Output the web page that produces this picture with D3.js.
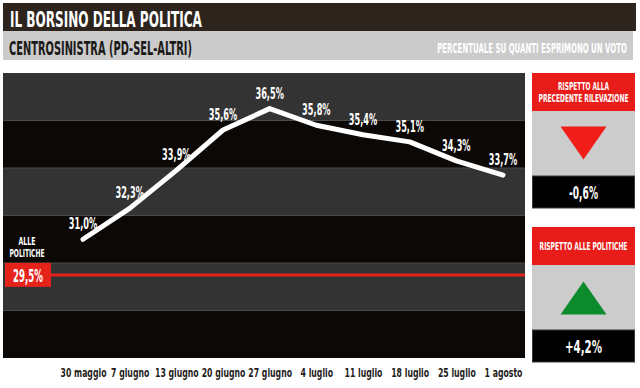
<!DOCTYPE html>
<html>
<head>
<meta charset="utf-8">
<script src="https://cdn.jsdelivr.net/npm/d3@7"></script>
<style>
  html, body { margin: 0; padding: 0; background: #ffffff; }
  svg { display: block; }
  text { font-family: "DejaVu Sans Condensed", "Liberation Sans Narrow", sans-serif; }
</style>
</head>
<body>
<svg id="chart" width="640" height="388"></svg>
<script>
// dati del grafico
const dates = ["30 maggio", "7 giugno", "13 giugno", "20 giugno", "27 giugno",
               "4 luglio", "11 luglio", "18 luglio", "25 luglio", "1 agosto"];
const values = [31.0, 32.3, 33.9, 35.6, 36.5, 35.8, 35.4, 35.1, 34.3, 33.7];
const electionValue = 29.5;          // alle politiche
const bandTicks = [26, 28, 30, 32, 34, 36, 38];

const title = "IL BORSINO DELLA POLITICA";
const subtitle = "CENTROSINISTRA (PD-SEL-ALTRI)";
const note = "PERCENTUALE SU QUANTI ESPRIMONO UN VOTO";

const fmt = v => d3.format(".1f")(v).replace(".", ",").replace("\u2212", "-") + "%";
const fmtSigned = v => (v > 0 ? "+" : "") + fmt(v);

const svg = d3.select("#chart");

// testo condensato: o scala fissa (sx) o adattato a una larghezza (width)
function label(parent, x, y, txt, size, color, opts = {}) {
    const t = parent.append("text")
        .attr("text-anchor", opts.anchor || "middle")
        .attr("font-size", size)
        .attr("font-weight", opts.weight || "bold")
        .attr("fill", color)
        .text(txt);
    let sx = opts.sx || 0.6;
    if (opts.width) sx = opts.width / t.node().getComputedTextLength();
    t.attr("transform", `translate(${x},${y}) scale(${sx},1)`);
    return t;
}

// Intestazione
svg.append("rect").attr("x", 3).attr("y", 3).attr("width", 633).attr("height", 28).attr("fill", "#2d241d");
svg.append("rect").attr("x", 3).attr("y", 31).attr("width", 630).attr("height", 29).attr("fill", "#cbcbcb");
label(svg, 10, 27, title, 21, "#ffffff", {anchor: "start", width: 192});
label(svg, 9, 55, subtitle, 19, "#1c1a18", {anchor: "start", width: 183});
label(svg, 627, 53, note, 14, "#ffffff", {anchor: "end", width: 190});

// Area del grafico
const plotL = 3, plotR = 525, plotT = 73, plotB = 358;
const y = d3.scaleLinear().domain([26, 38]).range([plotB, plotT]);
const x = d3.scalePoint().domain(dates).range([83, 503]);

const g = svg.append("g");

// fasce alternate
const bands = d3.pairs(bandTicks);
g.selectAll("rect.band")
    .data(bands)
    .enter().append("rect")
    .attr("class", "band")
    .attr("x", plotL)
    .attr("width", plotR - plotL)
    .attr("y", d => y(d[1]))
    .attr("height", d => y(d[0]) - y(d[1]))
    .attr("fill", (d, i) => (bandTicks.length - 2 - i) % 2 === 0 ? "#333333" : "#0b0806");

g.selectAll("line.sep")
    .data(bandTicks.slice(1, -1))
    .enter().append("line")
    .attr("x1", plotL).attr("x2", plotR)
    .attr("y1", d => y(d)).attr("y2", d => y(d))
    .attr("stroke", "#4a4a4a").attr("stroke-width", 1);

// linea alle politiche
g.append("line")
    .attr("x1", 51).attr("x2", plotR)
    .attr("y1", y(electionValue)).attr("y2", y(electionValue))
    .attr("stroke", "#e5231b").attr("stroke-width", 3);

g.append("rect")
    .attr("x", 5).attr("y", y(electionValue) - 12)
    .attr("width", 46).attr("height", 24)
    .attr("fill", "#e5231b");
label(g, 28, y(electionValue) + 7, fmt(electionValue), 17, "#ffffff", {width: 30});
label(g, 27, y(electionValue) - 30, "ALLE", 10, "#ffffff", {width: 17});
label(g, 27, y(electionValue) - 18, "POLITICHE", 10, "#ffffff", {width: 35});

// linea dei valori
const line = d3.line()
    .x((d, i) => x(dates[i]))
    .y(d => y(d));

g.append("path")
    .datum(values)
    .attr("d", line)
    .attr("fill", "none")
    .attr("stroke", "#ffffff")
    .attr("stroke-width", 5)
    .attr("stroke-linecap", "round")
    .attr("stroke-linejoin", "round");

values.forEach((v, i) => {
    label(g, x(dates[i]), y(v) - 10, fmt(v), 16, "#ffffff", {sx: 0.57});
});

// asse delle date
const xAxis = svg.append("g")
    .attr("transform", `translate(0,${plotB})`)
    .call(d3.axisBottom(x).tickSize(0).tickPadding(10));
xAxis.select(".domain").remove();
xAxis.selectAll("text")
    .attr("font-family", "'DejaVu Sans Condensed', 'Liberation Sans Narrow', sans-serif")
    .attr("font-size", 12)
    .attr("font-weight", "bold")
    .attr("fill", "#1e1c1a")
    .attr("transform", "scale(0.72,1)");

// Riquadri a destra
function panel(y0, lines, widths, arrow, arrowColor, delta, deltaW) {
    const px = 532, pw = 103, headH = 38;
    svg.append("rect").attr("x", px).attr("y", y0).attr("width", pw).attr("height", headH).attr("fill", "#e81c19");
    svg.append("rect").attr("x", px).attr("y", y0 + headH).attr("width", pw).attr("height", 65).attr("fill", "#cccccc");
    svg.append("rect").attr("x", px + 0.5).attr("y", y0 + headH + 65).attr("width", pw - 1).attr("height", 32)
        .attr("fill", "#000000").attr("stroke", "#3a3a3a").attr("stroke-width", 1);
    const cx = px + pw / 2;
    const start = y0 + headH / 2 - (lines.length - 1) * 6 + 4;
    lines.forEach((t, i) => label(svg, cx, start + i * 12, t, 11, "#ffffff", {width: widths[i]}));
    const ty = y0 + headH + 65 / 2;
    const pts = arrow === "down"
        ? [[cx - 23, ty - 17], [cx + 23, ty - 17], [cx, ty + 16]]
        : [[cx - 23, ty + 17], [cx + 23, ty + 17], [cx, ty - 16]];
    svg.append("path")
        .attr("d", d3.line()(pts) + "Z")
        .attr("fill", arrowColor);
    label(svg, cx, y0 + headH + 65 + 23, fmtSigned(delta), 17, "#ffffff", {width: deltaW});
}

const last = values[values.length - 1];
panel(73, ["RISPETTO ALLA", "PRECEDENTE RILEVAZIONE"], [51, 90], "down", "#f01d18",
      +(last - values[values.length - 2]).toFixed(1), 29);
panel(227, ["RISPETTO ALLE POLITICHE"], [88], "up", "#0b8b2c",
      +(last - electionValue).toFixed(1), 37);
</script>
</body>
</html>
